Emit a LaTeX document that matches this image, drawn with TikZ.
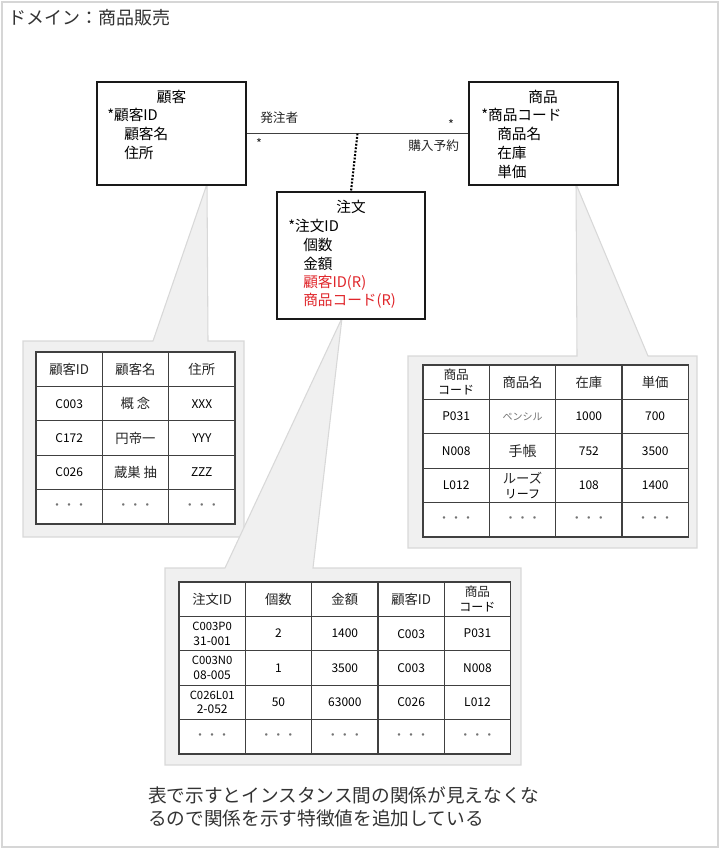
\documentclass[tikz,border=0pt]{standalone}
\usepackage{fontspec}
\setmainfont{Noto Sans CJK JP}
\definecolor{calloutfill}{HTML}{F0F0F0}
\definecolor{calloutline}{HTML}{D8D8D8}
\definecolor{tabline}{HTML}{404040}
\definecolor{redtxt}{HTML}{E0262B}
\definecolor{framegray}{HTML}{D6D6D6}
\definecolor{txtgray}{HTML}{333333}
\newcommand\jpf{\fontsize{10}{12}\selectfont\color{black!85}}
\newcommand\tdots{{\color{black!55}・・・}}
% #1 name, #2 x0, #3 y0, #4 row, #5 list
\newcommand\tabrow[5]{%
  \foreach \t [count=\c] in {#5}
    \node[cell] (#1-#4-\c) at ({#2+(\c-0.5)*66.33},{#3+(#4-0.5)*34.4}) {\t};}
\begin{document}
\begin{tikzpicture}[x=0.75pt,y=-0.75pt,
  umlbox/.style={draw=black!90, line width=1.2pt, fill=white, inner sep=0,
    minimum width=111.75pt, minimum height=77.25pt},
  umltxt/.style={inner sep=0, anchor=west, font=\fontsize{11}{13}\selectfont},
  umlred/.style={umltxt, text=redtxt},
  umltitle/.style={inner sep=0, font=\fontsize{11}{13}\selectfont},
  assoctxt/.style={inner sep=0, font=\fontsize{9.5}{11}\selectfont, text=black!85},
  assocline/.style={draw=black!75, line width=0.8pt},
  linkdot/.style={draw=black, line width=1.6pt, dash pattern=on 1.4pt off 1.2pt},
  callout/.style={fill=calloutfill, draw=calloutline, line width=0.8pt},
  cell/.style={draw=tabline, line width=0.8pt, fill=white, inner sep=0,
    align=center, minimum width=49.75pt, minimum height=25.8pt,
    font=\fontsize{9}{11}\selectfont},
  bigtxt/.style={inner sep=0, text=txtgray},
]
\useasboundingbox (0,0) rectangle (720,849);
\draw[draw=framegray, line width=1.2pt] (2,2) rectangle (718,847);

\node[bigtxt, anchor=west, font=\fontsize{13.5}{16}\selectfont] (title) at (8,18) {ドメイン：商品販売};

% callouts
\path[callout] (23,341) -- (153,341) -- (207,184) -- (208,341) -- (244,341)
  -- (244,537) -- (23,537) -- cycle;
\path[callout] (408,356) -- (577,356) -- (576,184) -- (648,356) -- (697,356)
  -- (697,548) -- (408,548) -- cycle;
\path[callout] (165,568) -- (225,568) -- (342,318) -- (313,568) -- (521,568)
  -- (521,765) -- (165,765) -- cycle;

% UML boxes
\node[umlbox] (kokyaku) at (171.5,133.5) {};
\node[umlbox] (shohin) at (543.5,133.5) {};
\node[umlbox, minimum width=111pt, minimum height=95.25pt] (chumon) at (351,255.5) {};

\node[umltitle] (k0) at (171.5,97) {顧客};
\node[umltxt] (k1) at (107,115) {*顧客ID};
\node[umltxt] (k2) at (124,134) {顧客名};
\node[umltxt] (k3) at (124,153) {住所};

\node[umltitle] (s0) at (543,97) {商品};
\node[umltxt] (s1) at (481,115) {*商品コード};
\node[umltxt] (s2) at (497,134) {商品名};
\node[umltxt] (s3) at (497,153) {在庫};
\node[umltxt] (s4) at (497,172) {単価};

\node[umltitle] (c0) at (351,207) {注文};
\node[umltxt] (c1) at (288,226) {*注文ID};
\node[umltxt] (c2) at (303,245) {個数};
\node[umltxt] (c3) at (303,264) {金額};
\node[umlred] (c4) at (303,283) {顧客ID(R)};
\node[umlred] (c5) at (303,301) {商品コード(R)};

% association
\draw[assocline] (kokyaku.east) -- (shohin.west) coordinate[pos=0.5] (assocmid);
\draw[linkdot] (assocmid) -- (chumon.north);
\node[assoctxt, anchor=west] (lblA) at (260,118) {発注者};
\node[assoctxt] (starA) at (259,143) {*};
\node[assoctxt] (starB) at (451,124) {*};
\node[assoctxt, anchor=west] (lblB) at (408,146) {購入予約};

% table: customers
\tabrow{ta}{36}{352}{1}{\jpf 顧客ID, \jpf 顧客名, \jpf 住所}
\tabrow{ta}{36}{352}{2}{C003, \jpf 概 念, XXX}
\tabrow{ta}{36}{352}{3}{C172, \jpf 円帝一, YYY}
\tabrow{ta}{36}{352}{4}{C026, \jpf 蔵巣 抽, ZZZ}
\tabrow{ta}{36}{352}{5}{\tdots, \tdots, \tdots}

% table: products
\tabrow{tb}{423}{365}{1}{{\fontsize{9.5}{11.5}\selectfont\color{black!85}商品\\コード}, \jpf 商品名, \jpf 在庫, \jpf 単価}
\tabrow{tb}{423}{365}{2}{P031, {\fontsize{7.5}{9}\selectfont\color{black!55}ペンシル}, 1000, 700}
\tabrow{tb}{423}{365}{3}{N008, {\fontsize{10.5}{12}\selectfont\color{black!85}手帳}, 752, 3500}
\tabrow{tb}{423}{365}{4}{L012, {\fontsize{10}{11.5}\selectfont\color{black!85}ルーズ\\リーフ}, 108, 1400}
\tabrow{tb}{423}{365}{5}{\tdots, \tdots, \tdots, \tdots}

% table: orders
\tabrow{tc}{179}{582}{1}{\jpf 注文ID, \jpf 個数, \jpf 金額, \jpf 顧客ID, {\fontsize{9.5}{11.5}\selectfont\color{black!85}商品\\コード}}
\tabrow{tc}{179}{582}{2}{{\fontsize{8.5}{11.5}\selectfont C003P0\\31-001}, 2, 1400, C003, P031}
\tabrow{tc}{179}{582}{3}{{\fontsize{8.5}{11.5}\selectfont C003N0\\08-005}, 1, 3500, C003, N008}
\tabrow{tc}{179}{582}{4}{{\fontsize{8.5}{11.5}\selectfont C026L01\\2-052}, 50, 63000, C026, L012}
\tabrow{tc}{179}{582}{5}{\tdots, \tdots, \tdots, \tdots, \tdots}

% note
\node[bigtxt, anchor=west, align=left, font=\fontsize{14}{17.25}\selectfont] (note) at (148,806.5)
  {表で示すとインスタンス間の関係が見えなくな\\るので関係を示す特徴値を追加している};
\end{tikzpicture}
\end{document}
